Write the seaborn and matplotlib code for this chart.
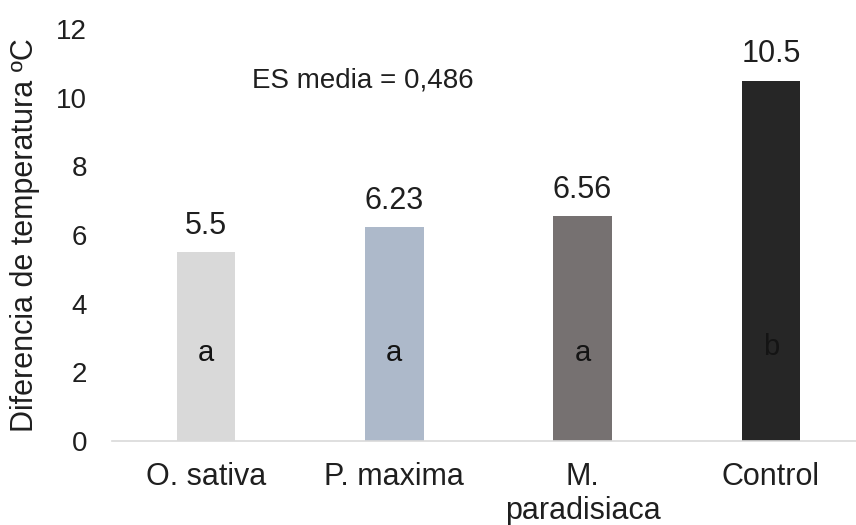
import matplotlib
matplotlib.use("Agg")
import matplotlib.pyplot as plt
import seaborn as sns
import pandas as pd

categories = ["O. sativa", "P. maxima", "M.\nparadisiaca", "Control"]
values = [5.5, 6.23, 6.56, 10.5]
value_labels = ["5.5", "6.23", "6.56", "10.5"]
letters = ["a", "a", "a", "b"]
colors = ["#D9D9D9", "#ADB9CA", "#767171", "#262626"]
yticks = [0, 2, 4, 6, 8, 10, 12]
annotation = "ES media = 0,486"
ylabel = "Diferencia de temperatura ºC"

sns.set_theme(style="white")
plt.rcParams["font.family"] = ["Liberation Sans", "DejaVu Sans"]

df = pd.DataFrame({"cat": categories, "val": values})

fig = plt.figure(figsize=(8.56, 5.25), dpi=100)
ax = fig.add_axes([112 / 856, 1 - 441 / 525, 753 / 856, (441 - 29) / 525])

sns.barplot(data=df, x="cat", y="val", hue="cat", palette=colors, legend=False,
            width=0.31, ax=ax, saturation=1, edgecolor="none")

ax.set_ylim(0, 12)
ax.set_xlim(-0.5, 3.5)
ax.set_yticks(yticks)
ax.set_yticklabels([str(t) for t in yticks], fontsize=20, color="#1f1f1f")
ax.tick_params(axis="y", length=0, pad=18)
ax.tick_params(axis="x", length=0, pad=15)
ax.set_xticks(range(len(categories)))
ax.set_xticklabels(categories, fontsize=22, color="#1f1f1f", linespacing=1.2)
ax.set_xlabel("")
ax.set_ylabel(ylabel, fontsize=22, color="#1f1f1f")
ax.yaxis.set_label_coords(-(112 - 40) / 753, 0.5)

for s in ["top", "right", "left"]:
    ax.spines[s].set_visible(False)
ax.spines["bottom"].set_color("#D9D9D9")
ax.spines["bottom"].set_linewidth(1.2)

for i, (v, lab, let) in enumerate(zip(values, value_labels, letters)):
    ax.annotate(lab, (i, v), xytext=(0, 13), textcoords="offset points",
                ha="center", va="baseline", fontsize=22, color="#1f1f1f",
                annotation_clip=False)
    yb = 2.5 if let == "b" else 2.33
    ax.text(i, yb, let, ha="center", va="baseline", fontsize=21,
            color="#141414")

ax.text(0.834, 10.5, annotation, ha="center", va="center", fontsize=20,
        color="#1f1f1f")

fig.savefig("out.png", dpi=100)
